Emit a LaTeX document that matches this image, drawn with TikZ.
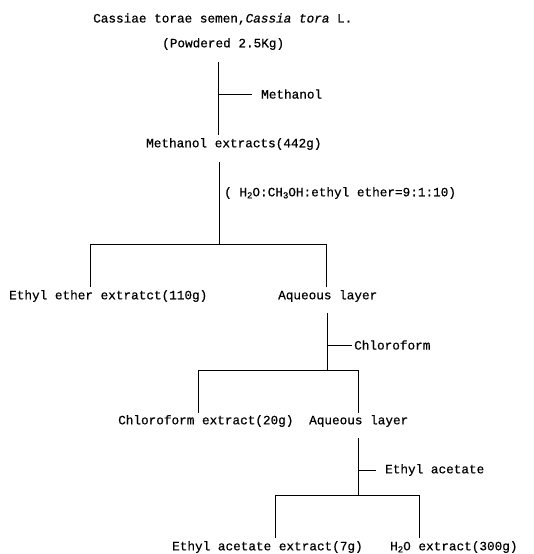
\documentclass[tikz,border=0pt]{standalone}
\usepackage{fontspec}
\setmonofont[FakeBold=0.6,ItalicFeatures={FakeBold=0.6}]{Liberation Mono}
\newcommand{\mysub}[1]{\raisebox{-0.3ex}{\fontsize{9}{9}\selectfont #1}}
\tikzset{
  lbl/.style={anchor=west, inner sep=0pt, font=\ttfamily\fontsize{12.7}{14}\selectfont},
  conn/.style={line width=0.8pt}
}
\begin{document}
\begin{tikzpicture}[x=1pt,y=-1pt]
\useasboundingbox (0,0) rectangle (533,554);
% texts
\node[lbl] (n1) at (93,19) {Cassiae torae semen,\textit{Cassia tora} L.};
\node[lbl] (n2) at (162,44) {(Powdered 2.5Kg)};
\node[lbl] (meth) at (261,94) {Methanol};
\node[lbl] (n3) at (146,144) {Methanol extracts(442g)};
\node[lbl] (solv) at (224,193) {( H\mysub{2}O:CH\mysub{3}OH:ethyl ether=9:1:10)};
\node[lbl] (n4) at (9,296) {Ethyl ether extratct(110g)};
\node[lbl] (n5) at (278,296) {Aqueous layer};
\node[lbl] (chl) at (354,345) {Chloroform};
\node[lbl] (n6) at (118,421) {Chloroform extract(20g)};
\node[lbl] (n7) at (309,421) {Aqueous layer};
\node[lbl] (eta) at (385,470) {Ethyl acetate};
\node[lbl] (n8) at (172,547) {Ethyl acetate extract(7g)};
\node[lbl] (n9) at (390,547) {H\mysub{2}O extract(300g)};
% junction coordinates
\coordinate (a1) at (218,62);
\coordinate (a2) at (218,135);
\coordinate (am) at (218,94);
\coordinate (ame) at (252,94);
\coordinate (b1) at (219,162);
\coordinate (b2) at (219,244);
\coordinate (bl) at (90,244);
\coordinate (br) at (326,244);
\coordinate (bld) at (90,287);
\coordinate (brd) at (326,287);
\coordinate (c1) at (327,313);
\coordinate (c2) at (327,370);
\coordinate (cm) at (327,345);
\coordinate (cme) at (352,345);
\coordinate (cl) at (198,370);
\coordinate (cr) at (358,370);
\coordinate (cld) at (198,413);
\coordinate (crd) at (358,413);
\coordinate (d1) at (358,438);
\coordinate (d2) at (358,495);
\coordinate (dm) at (358,470);
\coordinate (dme) at (376,470);
\coordinate (dl) at (275,495);
\coordinate (dr) at (419,495);
\coordinate (dld) at (275,538);
\coordinate (drd) at (419,538);
% connectors
\draw[conn] (a1) -- (a2);
\draw[conn] (am) -- (ame);
\draw[conn] (b1) -- (b2);
\draw[conn] (bld) -- (bl) -- (br) -- (brd);
\draw[conn] (c1) -- (c2);
\draw[conn] (cm) -- (cme);
\draw[conn] (cld) -- (cl) -- (cr) -- (crd);
\draw[conn] (d1) -- (d2);
\draw[conn] (dm) -- (dme);
\draw[conn] (dld) -- (dl) -- (dr) -- (drd);
\end{tikzpicture}
\end{document}
